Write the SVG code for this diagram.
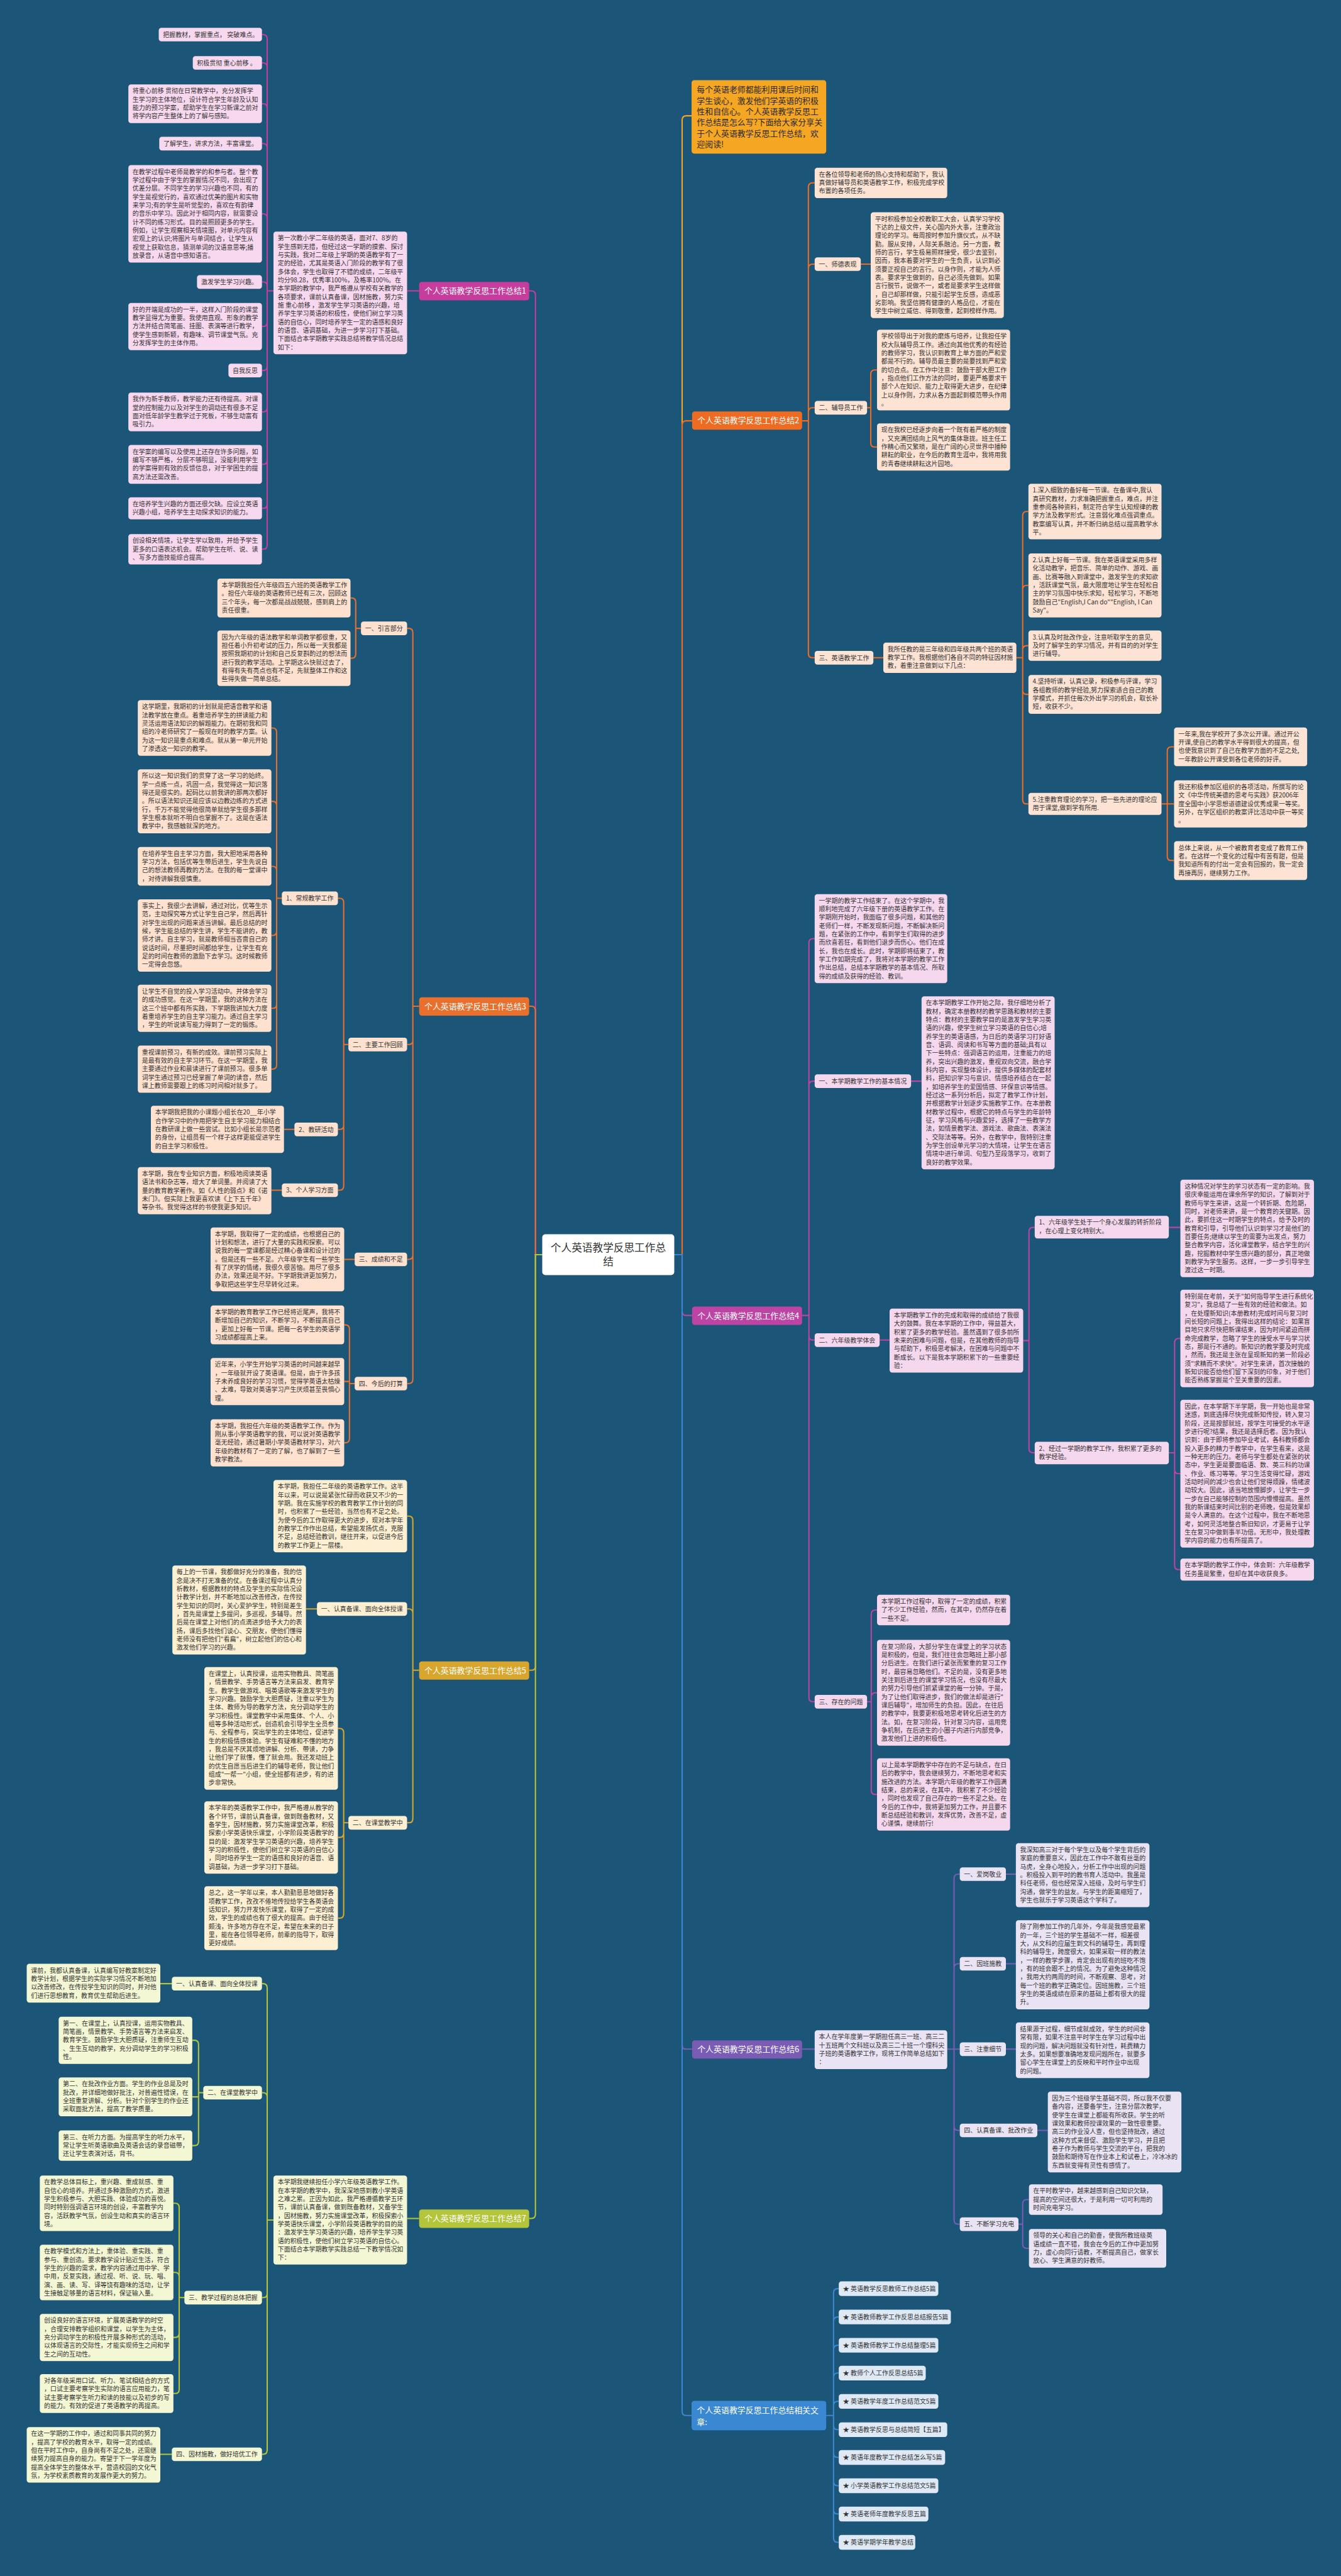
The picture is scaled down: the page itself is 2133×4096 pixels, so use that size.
<svg xmlns="http://www.w3.org/2000/svg" width="2133" height="4096" viewBox="0 0 2133 4096">
<style>
.t{font-family:"Noto Sans CJK SC","Noto Sans",sans-serif;font-size:12px;fill:#333}
.lb{font-family:"Noto Sans CJK SC","Noto Sans",sans-serif;font-size:15.5px;fill:#fff}
.tp{font-family:"Noto Sans CJK SC","Noto Sans",sans-serif;font-size:15.5px;fill:#2a2a2a}
.ct{font-family:"Noto Sans CJK SC","Noto Sans",sans-serif;font-size:20px;fill:#333}
.cn{fill:none;stroke-width:2.5}
.k0{stroke:#f5a623}.k1{stroke:#c63d9e}.k2{stroke:#f06b22}.k3{stroke:#e9702c}.k4{stroke:#bd43a5}.k5{stroke:#d8a62c}.k6{stroke:#7a5cb5}.k7{stroke:#b4c53a}.k8{stroke:#3a88d1}
.f1{fill:#f8d8ee}.f2{fill:#fde3d3}.f3{fill:#fee1cf}.f4{fill:#f6d8ee}.f5{fill:#fdf0d2}.f6{fill:#e9e3f4}.f7{fill:#f4f7d4}.f8{fill:#dfe9f6}
</style>
<rect x="0" y="0" width="2133" height="4096" fill="#1b5577"/>
<g transform="scale(0.833333)">
<g id="connectors">
<path class="cn k1" d="M1035 2394H1022V563Q1022 555 1014 555H1010"/>
<path class="cn k3" d="M1035 2394H1022V1928Q1022 1920 1014 1920H1010"/>
<path class="cn k5" d="M1035 2394H1022V3179Q1022 3187 1014 3187H1010"/>
<path class="cn k7" d="M1035 2394H1022V4225Q1022 4233 1014 4233H1010"/>
<path class="cn k0" d="M1287 2394H1302V229Q1302 221 1310 221H1320"/>
<path class="cn k2" d="M1287 2394H1302V811Q1302 803 1310 803H1321"/>
<path class="cn k4" d="M1287 2394H1302V2502Q1302 2510 1310 2510H1321"/>
<path class="cn k6" d="M1287 2394H1302V3902Q1302 3910 1310 3910H1321"/>
<path class="cn k8" d="M1287 2394H1302V4601Q1302 4609 1310 4609H1320"/>
<path class="cn k1" d="M800 555H777M522 555H510V74Q510 66 502 66H500M522 555H510V128Q510 120 502 120H500M522 555H510V206Q510 198 502 198H500M522 555H510V282Q510 274 502 274H500M522 555H510V416Q510 408 502 408H500M522 555H510V546Q510 538 502 538H500M522 555H510V615Q510 623 502 623H500M522 555H510V699Q510 707 502 707H500M522 555H510V778Q510 786 502 786H500M522 555H510V878Q510 886 502 886H500M522 555H510V962Q510 970 502 970H500M522 555H510V1040Q510 1048 502 1048H500"/>
<path class="cn k3" d="M800 1920H788V1207Q788 1199 780 1199H777M800 1920H788V1985Q788 1993 780 1993H777M800 1920H788V2395Q788 2403 780 2403H777M800 1920H788V2632Q788 2640 780 2640H777M692 1199H679V1149Q679 1141 671 1141H669M692 1199H679V1248Q679 1256 671 1256H669M669 1993H656V1722Q656 1714 648 1714H645M669 1993H656V2147Q656 2155 648 2155H645M669 1993H656V2263Q656 2271 648 2271H645M541 1714H528V1397Q528 1389 520 1389H518M541 1714H528V1537Q528 1529 520 1529H518M541 1714H528V1661Q528 1653 520 1653H518M541 1714H528V1777Q528 1785 520 1785H518M541 1714H528V1916Q528 1924 520 1924H518M541 1714H528V2032Q528 2040 520 2040H518M565 2155H542M541 2271H518M679 2403H657M679 2640H667V2536Q667 2528 659 2528H657M679 2640H667V2636H657M679 2640H667V2745Q667 2753 659 2753H657"/>
<path class="cn k5" d="M800 3187H788V2901Q788 2893 780 2893H777M800 3187H788V3078Q788 3070 780 3070H777M800 3187H788V3470Q788 3478 780 3478H777M607 3070H584M667 3478H656V3306Q656 3298 648 3298H645M667 3478H656V3498Q656 3506 648 3506H645M667 3478H656V3652Q656 3660 648 3660H645"/>
<path class="cn k7" d="M800 4233H777M522 4236H510V3793Q510 3785 502 3785H500M522 4236H510V4001Q510 3993 502 3993H500M522 4236H510V4376Q510 4384 502 4384H500M522 4236H510V4675Q510 4683 502 4683H500M329 3785H306M390 3993H379V3901Q379 3893 371 3893H367M390 3993H379V4001H367M390 3993H379V4086Q379 4094 371 4094H367M354 4384H342V4212Q342 4204 334 4204H331M354 4384H342V4344Q342 4336 334 4336H331M354 4384H342V4452Q342 4460 334 4460H331M354 4384H342V4559Q342 4567 334 4567H331M329 4683H306"/>
<path class="cn k2" d="M1531 803H1543V357Q1543 349 1551 349H1555M1531 803H1543V512Q1543 504 1551 504H1555M1531 803H1543V786Q1543 778 1551 778H1555M1531 803H1543V1247Q1543 1255 1551 1255H1555M1638 504H1662M1651 778H1662V714Q1662 706 1670 706H1674M1651 778H1662V845Q1662 853 1670 853H1674M1663 1255H1686M1940 1255H1952V984Q1952 976 1960 976H1963M1940 1255H1952V1125Q1952 1117 1960 1117H1963M1940 1255H1952V1240Q1952 1232 1960 1232H1963M1940 1255H1952V1317Q1952 1325 1960 1325H1963M1940 1255H1952V1526Q1952 1534 1960 1534H1963M2217 1534H2228V1433Q2228 1425 2236 1425H2241M2217 1534H2241M2217 1534H2228V1634Q2228 1642 2236 1642H2241"/>
<path class="cn k4" d="M1531 2510H1544V1799Q1544 1791 1552 1791H1555M1531 2510H1544V2071Q1544 2063 1552 2063H1555M1531 2510H1544V2549Q1544 2557 1552 2557H1555M1531 2510H1544V3239Q1544 3247 1552 3247H1555M1736 2063H1759M1675 2557H1698M1953 2558H1964V2350Q1964 2342 1972 2342H1975M1953 2558H1964V2764Q1964 2772 1972 2772H1975M2231 2342H2253M2231 2772H2242V2562Q2242 2554 2250 2554H2253M2231 2772H2242V2804Q2242 2812 2250 2812H2253M2231 2772H2242V2987Q2242 2995 2250 2995H2253M1651 3247H1663V3080Q1663 3072 1671 3072H1674M1651 3247H1663V3238Q1663 3230 1671 3230H1674M1651 3247H1663V3416Q1663 3424 1671 3424H1674"/>
<path class="cn k6" d="M1531 3910H1555M1808 3910H1821V3584Q1821 3576 1829 3576H1832M1808 3910H1821V3755Q1821 3747 1829 3747H1832M1808 3910H1832M1808 3910H1821V4057Q1821 4065 1829 4065H1832M1808 3910H1821V4236Q1821 4244 1829 4244H1832M1916 3576H1939M1916 3747H1939M1916 3910H1939M1977 4065H2000M1941 4244H1952V4205Q1952 4197 1960 4197H1964M1941 4244H1952V4282Q1952 4290 1960 4290H1964"/>
<path class="cn k8" d="M1577 4609H1591V4375Q1591 4367 1599 4367H1601M1577 4609H1591V4429Q1591 4421 1599 4421H1601M1577 4609H1591V4483Q1591 4475 1599 4475H1601M1577 4609H1591V4536Q1591 4528 1599 4528H1601M1577 4609H1591V4590Q1591 4582 1599 4582H1601M1577 4609H1591V4628Q1591 4636 1599 4636H1601M1577 4609H1591V4681Q1591 4689 1599 4689H1601M1577 4609H1591V4735Q1591 4743 1599 4743H1601M1577 4609H1591V4789Q1591 4797 1599 4797H1601M1577 4609H1591V4843Q1591 4851 1599 4851H1601"/>
</g>

<g id="center"><rect x="1035" y="2355" width="252" height="78" rx="6" fill="#ffffff"/><text class="ct" x="1161" y="2388" text-anchor="middle">个人英语教学反思工作总<tspan x="1161" dy="27">结</tspan></text></g>

<g id="intro"><rect x="1320" y="153" width="257" height="140" rx="5" fill="#f5a623"/><text class="tp" x="1330" y="177">每个英语老师都能利用课后时间和<tspan x="1330" dy="20.8">学生谈心，激发他们学英语的积极</tspan><tspan x="1330" dy="20.8">性和自信心。个人英语教学反思工</tspan><tspan x="1330" dy="20.8">作总结是怎么写?下面给大家分享关</tspan><tspan x="1330" dy="20.8">于个人英语教学反思工作总结，欢</tspan><tspan x="1330" dy="20.8">迎阅读!</tspan></text></g>

<g id="b1">
<g id="b1-label"><rect x="800" y="538" width="210" height="35" rx="5" fill="#c63d9e"/><text class="lb" x="810" y="561">个人英语教学反思工作总结1</text></g>
<g id="b1-main"><rect class="f1" x="522" y="442" width="255" height="234" rx="5"/><text class="t" x="530" y="459">第一次教小学二年级的英语，面对7、8岁的<tspan x="530" dy="16">学生感到无措，但经过这一学期的摸索、探讨</tspan><tspan x="530" dy="16">与实践，我对二年级上学期的英语教学有了一</tspan><tspan x="530" dy="16">定的经验，尤其是英语入门阶段的教学有了很</tspan><tspan x="530" dy="16">多体会，学生也取得了不错的成绩，二年级平</tspan><tspan x="530" dy="16">均分98.28，优秀率100%，及格率100%。在</tspan><tspan x="530" dy="16">本学期的教学中，我严格遵从学校有关教学的</tspan><tspan x="530" dy="16">各项要求，课前认真备课，因材施教，努力实</tspan><tspan x="530" dy="16">施 重心前移 ，激发学生学习英语的兴趣，培</tspan><tspan x="530" dy="16">养学生学习英语的积极性，使他们树立学习英</tspan><tspan x="530" dy="16">语的自信心，同时培养学生一定的语感和良好</tspan><tspan x="530" dy="16">的语音、语调基础，为进一步学习打下基础。</tspan><tspan x="530" dy="16">下面结合本学期教学实践总结将教学情况总结</tspan><tspan x="530" dy="16">如下：</tspan></text></g>
<g id="b1-a"><rect class="f1" x="303" y="53" width="197" height="26" rx="5"/><text class="t" x="311" y="70.5">把握教材，掌握重点， 突破难点。</text></g>
<g id="b1-b"><rect class="f1" x="368" y="107" width="132" height="26" rx="5"/><text class="t" x="376" y="124.5">积极贯彻 重心前移 。</text></g>
<g id="b1-c"><rect class="f1" x="245" y="161" width="255" height="74" rx="5"/><text class="t" x="253" y="178">将重心前移 贯彻在日常教学中，充分发挥学<tspan x="253" dy="16">生学习的主体地位，设计符合学生年龄及认知</tspan><tspan x="253" dy="16">能力的预习学案，帮助学生在学习新课之前对</tspan><tspan x="253" dy="16">将学内容产生整体上的了解与感知。</tspan></text></g>
<g id="b1-d"><rect class="f1" x="304" y="261" width="196" height="26" rx="5"/><text class="t" x="312" y="278.5">了解学生，讲求方法，丰富课堂。</text></g>
<g id="b1-e"><rect class="f1" x="245" y="315" width="255" height="186" rx="5"/><text class="t" x="253" y="332">在教学过程中老师是教学的和参与者。整个教<tspan x="253" dy="16">学过程中由于学生的掌握情况不同，会出现了</tspan><tspan x="253" dy="16">优差分层。不同学生的学习兴趣也不同，有的</tspan><tspan x="253" dy="16">学生是视觉行的，喜欢通过优美的图片和实物</tspan><tspan x="253" dy="16">来学习;有的学生是听觉型的，喜欢在有韵律</tspan><tspan x="253" dy="16">的音乐中学习。因此对于相同内容，就需要设</tspan><tspan x="253" dy="16">计不同的练习形式。目的是照顾更多的学生。</tspan><tspan x="253" dy="16">例如，让学生观察相关情境图，对单元内容有</tspan><tspan x="253" dy="16">宏观上的认识;将图片与单词结合，让学生从</tspan><tspan x="253" dy="16">视觉上获取信息，猜测单词的汉语意思等;播</tspan><tspan x="253" dy="16">放录音，从语音中感知语言。</tspan></text></g>
<g id="b1-f"><rect class="f1" x="376" y="525" width="124" height="26" rx="5"/><text class="t" x="384" y="542.5">激发学生学习兴趣。</text></g>
<g id="b1-g"><rect class="f1" x="245" y="578" width="255" height="90" rx="5"/><text class="t" x="253" y="595">好的开端是成功的一半，这样入门阶段的课堂<tspan x="253" dy="16">教学显得尤为重要。我使用直观、形象的教学</tspan><tspan x="253" dy="16">方法并结合简笔画、挂图、表演等进行教学，</tspan><tspan x="253" dy="16">使学生感到新颖，有趣味、调节课堂气氛。充</tspan><tspan x="253" dy="16">分发挥学生的主体作用。</tspan></text></g>
<g id="b1-h"><rect class="f1" x="436" y="694" width="64" height="26" rx="5"/><text class="t" x="444" y="711.5">自我反思</text></g>
<g id="b1-i"><rect class="f1" x="245" y="749" width="255" height="74" rx="5"/><text class="t" x="253" y="766">我作为新手教师，教学能力还有待提高。对课<tspan x="253" dy="16">堂的控制能力以及对学生的调动还有很多不足</tspan><tspan x="253" dy="16">面对低年龄学生教学过于死板，不够生动富有</tspan><tspan x="253" dy="16">吸引力。</tspan></text></g>
<g id="b1-j"><rect class="f1" x="245" y="849" width="255" height="74" rx="5"/><text class="t" x="253" y="866">在学案的编写以及使用上还存在许多问题，如<tspan x="253" dy="16">编写不够严格，分层不够明显，没能利用学生</tspan><tspan x="253" dy="16">的学案得到有效的反馈信息，对于学困生的提</tspan><tspan x="253" dy="16">高方法还需改善。</tspan></text></g>
<g id="b1-k"><rect class="f1" x="245" y="949" width="255" height="42" rx="5"/><text class="t" x="253" y="966">在培养学生兴趣的方面还很欠缺。应设立英语<tspan x="253" dy="16">兴趣小组，培养学生主动探求知识的能力。</tspan></text></g>
<g id="b1-l"><rect class="f1" x="245" y="1019" width="255" height="58" rx="5"/><text class="t" x="253" y="1036">创设相关情境，让学生学以致用，并给予学生<tspan x="253" dy="16">更多的口语表达机会。帮助学生在听、说、读</tspan><tspan x="253" dy="16">、写多方面技能综合提高。</tspan></text></g>
</g>

<g id="b3">
<g id="b3-label"><rect x="800" y="1903" width="210" height="35" rx="5" fill="#e9702c"/><text class="lb" x="810" y="1926">个人英语教学反思工作总结3</text></g>
<g id="b3-s1"><rect class="f3" x="689" y="1186" width="88" height="26" rx="5"/><text class="t" x="697" y="1203.5">一、引言部分</text></g>
<g id="b3-A"><rect class="f3" x="415" y="1104" width="254" height="74" rx="5"/><text class="t" x="423" y="1121">本学期我担任六年级四五六班的英语教学工作<tspan x="423" dy="16">。担任六年级的英语教师已经有三次，回顾这</tspan><tspan x="423" dy="16">三个年头，每一次都是战战兢兢，感到肩上的</tspan><tspan x="423" dy="16">责任很重。</tspan></text></g>
<g id="b3-B"><rect class="f3" x="415" y="1203" width="254" height="106" rx="5"/><text class="t" x="423" y="1220">因为六年级的语法教学和单词教学都很重，又<tspan x="423" dy="16">担任着小升初考试的压力，所以每一天我都是</tspan><tspan x="423" dy="16">按照我期初的计划和自己反复斟酌过的想法而</tspan><tspan x="423" dy="16">进行我的教学活动。上学期这么快就过去了，</tspan><tspan x="423" dy="16">有得有失有亮点也有不足，先就整体工作和这</tspan><tspan x="423" dy="16">些得失做一简单总结。</tspan></text></g>
<g id="b3-s2"><rect class="f3" x="665" y="1980" width="112" height="26" rx="5"/><text class="t" x="673" y="1997.5">二、主要工作回顾</text></g>
<g id="b3-s21"><rect class="f3" x="538" y="1701" width="107" height="26" rx="5"/><text class="t" x="546" y="1718.5">1、常规教学工作</text></g>
<g id="b3-C1"><rect class="f3" x="263" y="1336" width="255" height="106" rx="5"/><text class="t" x="271" y="1353">这学期里，我期初的计划就是把语音教学和语<tspan x="271" dy="16">法教学放在重点。着重培养学生的拼读能力和</tspan><tspan x="271" dy="16">灵活运用语法知识的解题能力。在期初我和同</tspan><tspan x="271" dy="16">组的冷老师研究了一般现在时的教学方案。认</tspan><tspan x="271" dy="16">为这一知识是重点和难点。就从第一单元开始</tspan><tspan x="271" dy="16">了渗透这一知识的教学。</tspan></text></g>
<g id="b3-C2"><rect class="f3" x="263" y="1468" width="255" height="122" rx="5"/><text class="t" x="271" y="1485">所以这一知识我们的贯穿了这一学习的始终。<tspan x="271" dy="16">学一点练一点，巩固一点，我觉得这一知识落</tspan><tspan x="271" dy="16">得还是很实的。起码比以前我讲的那两次都好</tspan><tspan x="271" dy="16">。所以语法知识还是应该以边教边练的方式进</tspan><tspan x="271" dy="16">行，千万不能觉得他很简单就给学生很多那样</tspan><tspan x="271" dy="16">学生根本就听不明白也掌握不了。这是在语法</tspan><tspan x="271" dy="16">教学中，我感触就深的地方。</tspan></text></g>
<g id="b3-C3"><rect class="f3" x="263" y="1616" width="255" height="74" rx="5"/><text class="t" x="271" y="1633">在培养学生自主学习方面，我大胆地采用各种<tspan x="271" dy="16">学习方法，包括优等生带后进生，学生先说自</tspan><tspan x="271" dy="16">己的想法教师再教的方法。在我的每一堂课中</tspan><tspan x="271" dy="16">，对待讲解我很慎重。</tspan></text></g>
<g id="b3-C4"><rect class="f3" x="263" y="1716" width="255" height="138" rx="5"/><text class="t" x="271" y="1733">事实上，我很少去讲解，通过对比，优等生示<tspan x="271" dy="16">范，主动探究等方式让学生自己学，然后再针</tspan><tspan x="271" dy="16">对学生出现的问题来适当讲解。最后总结的时</tspan><tspan x="271" dy="16">候，学生能总结的学生讲，学生不能讲的，教</tspan><tspan x="271" dy="16">师才讲。自主学习，就是教师相当吝啬自己的</tspan><tspan x="271" dy="16">说话时间，尽量把时间都给学生，让学生有充</tspan><tspan x="271" dy="16">足的时间在教师的激励下去学习。这时候教师</tspan><tspan x="271" dy="16">一定得会忽悠。</tspan></text></g>
<g id="b3-C5"><rect class="f3" x="263" y="1879" width="255" height="90" rx="5"/><text class="t" x="271" y="1896">让学生不自觉的投入学习活动中。并体会学习<tspan x="271" dy="16">的成功感觉。在这一学期里，我的这种方法在</tspan><tspan x="271" dy="16">这三个班中都有所实践，下学期我讲加大力度</tspan><tspan x="271" dy="16">着重培养学生的自主学习能力。通过自主学习</tspan><tspan x="271" dy="16">，学生的听说读写能力得到了一定的锻炼。</tspan></text></g>
<g id="b3-C6"><rect class="f3" x="263" y="1995" width="255" height="90" rx="5"/><text class="t" x="271" y="2012">重视课前预习，有新的成效。课前预习实际上<tspan x="271" dy="16">是最有效的自主学习环节。在这一学期里，我</tspan><tspan x="271" dy="16">主要通过作业和晨读进行了课前预习。很多单</tspan><tspan x="271" dy="16">词学生通过预习已经掌握了单词的读音，然后</tspan><tspan x="271" dy="16">课上教师需要跟上的练习时间相对就多了。</tspan></text></g>
<g id="b3-s22"><rect class="f3" x="562" y="2142" width="83" height="26" rx="5"/><text class="t" x="570" y="2159.5">2、教研活动</text></g>
<g id="b3-D"><rect class="f3" x="288" y="2110" width="254" height="90" rx="5"/><text class="t" x="296" y="2127">本学期我把我的小课题小组长在20__年小学<tspan x="296" dy="16">合作学习中的作用把学生自主学习能力相结合</tspan><tspan x="296" dy="16">在教研课上做一些尝试。比如小组长是示范者</tspan><tspan x="296" dy="16">的身份，让组员有一个样子这样更能促进学生</tspan><tspan x="296" dy="16">的自主学习积极性。</tspan></text></g>
<g id="b3-s23"><rect class="f3" x="538" y="2258" width="107" height="26" rx="5"/><text class="t" x="546" y="2275.5">3、个人学习方面</text></g>
<g id="b3-E"><rect class="f3" x="263" y="2227" width="255" height="90" rx="5"/><text class="t" x="271" y="2244">本学期，我在专业知识方面，积极地阅读英语<tspan x="271" dy="16">语法书和杂志等，增大了单词量。并阅读了大</tspan><tspan x="271" dy="16">量的教育教学著作。如《人性的弱点》和《诺</tspan><tspan x="271" dy="16">未门》。但实际上我更喜欢读《上下五千年》</tspan><tspan x="271" dy="16">等杂书。我觉得这样的书使我更多知识。</tspan></text></g>
<g id="b3-s3"><rect class="f3" x="677" y="2390" width="100" height="26" rx="5"/><text class="t" x="685" y="2407.5">三、成绩和不足</text></g>
<g id="b3-F"><rect class="f3" x="402" y="2342" width="255" height="122" rx="5"/><text class="t" x="410" y="2359">本学期，我取得了一定的成绩，也根据自己的<tspan x="410" dy="16">计划和想法，进行了大量的实践和探索。可以</tspan><tspan x="410" dy="16">说我的每一堂课都是经过精心备课和设计过的</tspan><tspan x="410" dy="16">。但是还有一些不足。六年级学生有一些学生</tspan><tspan x="410" dy="16">有了厌学的情绪，我很久很苦恼。用尽了很多</tspan><tspan x="410" dy="16">办法，效果还是不好。下学期我讲更加努力，</tspan><tspan x="410" dy="16">争取把这些学生尽早转化过来。</tspan></text></g>
<g id="b3-s4"><rect class="f3" x="677" y="2627" width="100" height="26" rx="5"/><text class="t" x="685" y="2644.5">四、今后的打算</text></g>
<g id="b3-G1"><rect class="f3" x="402" y="2491" width="255" height="74" rx="5"/><text class="t" x="410" y="2508">本学期的教育教学工作已经将近尾声，我将不<tspan x="410" dy="16">断增加自己的知识，不断学习，不断提高自己</tspan><tspan x="410" dy="16">，更加上好每一节课。把每一名学生的英语学</tspan><tspan x="410" dy="16">习成绩都提高上来。</tspan></text></g>
<g id="b3-G2"><rect class="f3" x="402" y="2591" width="255" height="90" rx="5"/><text class="t" x="410" y="2608">近年来，小学生开始学习英语的时间越来越早<tspan x="410" dy="16">，一年级就开设了英语课。但是，由于许多孩</tspan><tspan x="410" dy="16">子未养成良好的学习习惯，觉得学英语太枯燥</tspan><tspan x="410" dy="16">、太难，导致对英语学习产生厌烦甚至畏惧心</tspan><tspan x="410" dy="16">理。</tspan></text></g>
<g id="b3-G3"><rect class="f3" x="402" y="2708" width="255" height="90" rx="5"/><text class="t" x="410" y="2725">本学期，我担任六年级的英语教学工作。作为<tspan x="410" dy="16">刚从事小学英语教学的我，可以说对英语教学</tspan><tspan x="410" dy="16">毫无经验，通过暑期小学英语教材学习，对六</tspan><tspan x="410" dy="16">年级的教材有了一定的了解，也了解到了一些</tspan><tspan x="410" dy="16">教学教法。</tspan></text></g>
</g>

<g id="b5">
<g id="b5-label"><rect x="800" y="3170" width="210" height="35" rx="5" fill="#d8a62c"/><text class="lb" x="810" y="3193">个人英语教学反思工作总结5</text></g>
<g id="b5-H"><rect class="f5" x="522" y="2824" width="255" height="138" rx="5"/><text class="t" x="530" y="2841">本学期，我担任二年级的英语教学工作。这半<tspan x="530" dy="16">年以来，可以说是紧张忙碌而收获又不少的一</tspan><tspan x="530" dy="16">学期。我在实施学校的教育教学工作计划的同</tspan><tspan x="530" dy="16">时，也积累了一些经验，当然也有不足之处。</tspan><tspan x="530" dy="16">为使今后的工作取得更大的进步，现对本学年</tspan><tspan x="530" dy="16">的教学工作作出总结，希望能发扬优点，克服</tspan><tspan x="530" dy="16">不足，总结经验教训，继往开来，以促进今后</tspan><tspan x="530" dy="16">的教学工作更上一层楼。</tspan></text></g>
<g id="b5-s1"><rect class="f5" x="605" y="3057" width="172" height="26" rx="5"/><text class="t" x="613" y="3074.5">一、认真备课、面向全体授课</text></g>
<g id="b5-I"><rect class="f5" x="329" y="2987" width="255" height="170" rx="5"/><text class="t" x="337" y="3004">每上的一节课，我都做好充分的准备，我的信<tspan x="337" dy="16">念是决不打无准备的仗。在备课过程中认真分</tspan><tspan x="337" dy="16">析教材，根据教材的特点及学生的实际情况设</tspan><tspan x="337" dy="16">计教学计划，并不断地加以改善修改，在传授</tspan><tspan x="337" dy="16">学生知识的同时，关心爱护学生，特别是差生</tspan><tspan x="337" dy="16">，首先是课堂上多提问，多巡视，多辅导。然</tspan><tspan x="337" dy="16">后是在课堂上对他们的点滴进步给予大力的表</tspan><tspan x="337" dy="16">扬，课后多找他们谈心、交朋友，使他们懂得</tspan><tspan x="337" dy="16">老师没有把他们"看扁"，树立起他们的信心和</tspan><tspan x="337" dy="16">激发他们学习的兴趣。</tspan></text></g>
<g id="b5-s2"><rect class="f5" x="665" y="3465" width="112" height="26" rx="5"/><text class="t" x="673" y="3482.5">二、在课堂教学中</text></g>
<g id="b5-J1"><rect class="f5" x="390" y="3181" width="255" height="234" rx="5"/><text class="t" x="398" y="3198">在课堂上，认真授课，运用实物教具、简笔画<tspan x="398" dy="16">，情景教学、手势语言等方法来启发、教育学</tspan><tspan x="398" dy="16">生。教学生做游戏、唱英语歌等来激发学生的</tspan><tspan x="398" dy="16">学习兴趣。鼓励学生大胆质疑，注重以学生为</tspan><tspan x="398" dy="16">主体、教师为导的教学方法，充分调动学生的</tspan><tspan x="398" dy="16">学习积极性。课堂教学中采用集体、个人、小</tspan><tspan x="398" dy="16">组等多种活动形式，创造机会引导学生全员参</tspan><tspan x="398" dy="16">与、全程参与，突出学生的主体地位，促进学</tspan><tspan x="398" dy="16">生的积极情感体验。学生有疑难和不懂的地方</tspan><tspan x="398" dy="16">，我总是不厌其烦地讲解、分析、带读，力争</tspan><tspan x="398" dy="16">让他们学了就懂，懂了就会用。我还发动班上</tspan><tspan x="398" dy="16">的优生自愿当后进生们的辅导老师，我让他们</tspan><tspan x="398" dy="16">组成"一帮一"小组，使全班都有进步，有的进</tspan><tspan x="398" dy="16">步非常快。</tspan></text></g>
<g id="b5-J2"><rect class="f5" x="390" y="3437" width="255" height="138" rx="5"/><text class="t" x="398" y="3454">本学年的英语教学工作中，我严格遵从教学的<tspan x="398" dy="16">各个环节，课前认真备课，做到既备教材，又</tspan><tspan x="398" dy="16">备学生，因材施教，努力实施课堂改革，积极</tspan><tspan x="398" dy="16">探索小学英语快乐课堂，小学阶段英语教学的</tspan><tspan x="398" dy="16">目的是：激发学生学习英语的兴趣，培养学生</tspan><tspan x="398" dy="16">学习的积极性，使他们树立学习英语的自信心</tspan><tspan x="398" dy="16">，同时培养学生一定的语感和良好的语音、语</tspan><tspan x="398" dy="16">调基础，为进一步学习打下基础。</tspan></text></g>
<g id="b5-J3"><rect class="f5" x="390" y="3599" width="255" height="122" rx="5"/><text class="t" x="398" y="3616">总之，这一学年以来，本人勤勤恳恳地做好各<tspan x="398" dy="16">项教学工作，孜孜不倦地传授给学生各英语会</tspan><tspan x="398" dy="16">话知识，努力开发快乐课堂，取得了一定的成</tspan><tspan x="398" dy="16">效，学生的成绩也有了很大的提高。由于经验</tspan><tspan x="398" dy="16">颇浅，许多地方存在不足，希望在未来的日子</tspan><tspan x="398" dy="16">里，能在各位领导老师，前辈的指导下，取得</tspan><tspan x="398" dy="16">更好成绩。</tspan></text></g>
</g>

<g id="b7">
<g id="b7-label"><rect x="800" y="4216" width="210" height="35" rx="5" fill="#b4c53a"/><text class="lb" x="810" y="4239">个人英语教学反思工作总结7</text></g>
<g id="b7-K"><rect class="f7" x="522" y="4151" width="255" height="170" rx="5"/><text class="t" x="530" y="4168">本学期我继续担任小学六年级英语教学工作。<tspan x="530" dy="16">在本学期的教学中，我深深地感到教小学英语</tspan><tspan x="530" dy="16">之难之累。正因为如此，我严格遵循教学五环</tspan><tspan x="530" dy="16">节，课前认真备课，做到既备教材，又备学生</tspan><tspan x="530" dy="16">，因材施教，努力实施课堂改革，积极探索小</tspan><tspan x="530" dy="16">学英语快乐课堂，小学阶段英语教学的目的是</tspan><tspan x="530" dy="16">：激发学生学习英语的兴趣，培养学生学习英</tspan><tspan x="530" dy="16">语的积极性，使他们树立学习英语的自信心。</tspan><tspan x="530" dy="16">下面结合本学期教学实践总结一下教学情况如</tspan><tspan x="530" dy="16">下：</tspan></text></g>
<g id="b7-s1"><rect class="f7" x="328" y="3772" width="172" height="26" rx="5"/><text class="t" x="336" y="3789.5">一、认真备课、面向全体授课</text></g>
<g id="b7-L1"><rect class="f7" x="51" y="3747" width="255" height="74" rx="5"/><text class="t" x="59" y="3764">课前，我都认真备课，认真编写好教案制定好<tspan x="59" dy="16">教学计划，根据学生的实际学习情况不断地加</tspan><tspan x="59" dy="16">以改善修改，在传授学生知识的同时，并对他</tspan><tspan x="59" dy="16">们进行思想教育，教育优生帮助后进生。</tspan></text></g>
<g id="b7-s2"><rect class="f7" x="388" y="3980" width="112" height="26" rx="5"/><text class="t" x="396" y="3997.5">二、在课堂教学中</text></g>
<g id="b7-M1"><rect class="f7" x="112" y="3848" width="255" height="90" rx="5"/><text class="t" x="120" y="3865">第一、在课堂上，认真授课，运用实物教具、<tspan x="120" dy="16">简笔画，情景教学、手势语言等方法来启发、</tspan><tspan x="120" dy="16">教育学生。鼓励学生大胆质疑，注重师生互动</tspan><tspan x="120" dy="16">、生生互动的教学，充分调动学生的学习积极</tspan><tspan x="120" dy="16">性。</tspan></text></g>
<g id="b7-M2"><rect class="f7" x="112" y="3964" width="255" height="74" rx="5"/><text class="t" x="120" y="3981">第二、在批改作业方面。学生的作业总是及时<tspan x="120" dy="16">批改，并详细地做好批注，对普遍性错误，在</tspan><tspan x="120" dy="16">全班重复讲解、分析。针对个别学生的作业还</tspan><tspan x="120" dy="16">采取面批方法，提高了教学质量。</tspan></text></g>
<g id="b7-M3"><rect class="f7" x="112" y="4065" width="255" height="58" rx="5"/><text class="t" x="120" y="4082">第三、在听力方面。为提高学生的听力水平，<tspan x="120" dy="16">常让学生听英语歌曲及英语会话的录音磁带，</tspan><tspan x="120" dy="16">还让学生表演对话，背书。</tspan></text></g>
<g id="b7-s3"><rect class="f7" x="352" y="4371" width="148" height="26" rx="5"/><text class="t" x="360" y="4388.5">三、教学过程的总体把握</text></g>
<g id="b7-N1"><rect class="f7" x="76" y="4151" width="255" height="106" rx="5"/><text class="t" x="84" y="4168">在教学总体目标上，重兴趣、重成就感、重<tspan x="84" dy="16">自信心的培养。并通过多种激励的方式，激进</tspan><tspan x="84" dy="16">学生积极参与、大胆实践、体验成功的喜悦。</tspan><tspan x="84" dy="16">同时特别强调语言环境的创设，丰富教学内</tspan><tspan x="84" dy="16">容，活跃教学气氛，创设生动和真实的语言环</tspan><tspan x="84" dy="16">境。</tspan></text></g>
<g id="b7-N2"><rect class="f7" x="76" y="4283" width="255" height="106" rx="5"/><text class="t" x="84" y="4300">在教学模式和方法上，重体验、重实践、重<tspan x="84" dy="16">参与、重创造。要求教学设计贴近生活，符合</tspan><tspan x="84" dy="16">学生的兴趣的需求，教学内容通过用中学、学</tspan><tspan x="84" dy="16">中用，反复实践，通过视、听、说、玩、唱、</tspan><tspan x="84" dy="16">演、画、读、写、译等饶有趣味的活动，让学</tspan><tspan x="84" dy="16">生接触足够量的语言材料，保证输入量。</tspan></text></g>
<g id="b7-N3"><rect class="f7" x="76" y="4415" width="255" height="90" rx="5"/><text class="t" x="84" y="4432">创设良好的语言环境，扩展英语教学的时空<tspan x="84" dy="16">，合理安排教学组织和课堂，以学生为主体，</tspan><tspan x="84" dy="16">充分调动学生的积极性开展多种形式的活动，</tspan><tspan x="84" dy="16">以体现语言的交际性，才能实现师生之间和学</tspan><tspan x="84" dy="16">生之间的互动性。</tspan></text></g>
<g id="b7-N4"><rect class="f7" x="76" y="4530" width="255" height="74" rx="5"/><text class="t" x="84" y="4547">对各年级采用口试、听力、笔试相结合的方式<tspan x="84" dy="16">，口试主要考察学生实际的语言应用能力，笔</tspan><tspan x="84" dy="16">试主要考察学生听力和读的技能以及初步的写</tspan><tspan x="84" dy="16">的能力。有效的促进了英语教学的再提高。</tspan></text></g>
<g id="b7-s4"><rect class="f7" x="328" y="4670" width="172" height="26" rx="5"/><text class="t" x="336" y="4687.5">四、因材施教，做好培优工作</text></g>
<g id="b7-O"><rect class="f7" x="51" y="4631" width="255" height="106" rx="5"/><text class="t" x="59" y="4648">在这一学期的工作中，通过和同事共同的努力<tspan x="59" dy="16">，提高了学校的教育水平，取得一定的成绩。</tspan><tspan x="59" dy="16">但在平时工作中，自身尚有不足之处，还需继</tspan><tspan x="59" dy="16">续努力提高自身的能力。寄望于下一学年度为</tspan><tspan x="59" dy="16">提高全体学生的整体水平，营造校园的文化气</tspan><tspan x="59" dy="16">氛，为学校素质教育的发展作更大的努力。</tspan></text></g>
</g>

<g id="b2">
<g id="b2-label"><rect x="1321" y="785" width="210" height="35" rx="5" fill="#f06b22"/><text class="lb" x="1331" y="808">个人英语教学反思工作总结2</text></g>
<g id="b2-P"><rect class="f2" x="1555" y="320" width="253" height="58" rx="5"/><text class="t" x="1563" y="337">在各位领导和老师的热心支持和帮助下，我认<tspan x="1563" dy="16">真做好辅导员和英语教学工作，积极完成学校</tspan><tspan x="1563" dy="16">布置的各项任务。</tspan></text></g>
<g id="b2-s1"><rect class="f2" x="1555" y="491" width="88" height="26" rx="5"/><text class="t" x="1563" y="508.5">一、师德表现</text></g>
<g id="b2-Q"><rect class="f2" x="1662" y="405" width="254" height="202" rx="5"/><text class="t" x="1670" y="422">平时积极参加全校教职工大会，认真学习学校<tspan x="1670" dy="16">下达的上级文件，关心国内外大事，注重政治</tspan><tspan x="1670" dy="16">理论的学习。每周按时参加升旗仪式，从不缺</tspan><tspan x="1670" dy="16">勤。服从安排，人际关系融洽。另一方面，教</tspan><tspan x="1670" dy="16">师的言行，学生极易照样接受，很少去鉴别，</tspan><tspan x="1670" dy="16">因而，我本着要对学生的一生负责，认识到必</tspan><tspan x="1670" dy="16">须要正视自己的言行。以身作则，才能为人师</tspan><tspan x="1670" dy="16">表。要求学生做到的，自己必须先做到。如果</tspan><tspan x="1670" dy="16">言行脱节，说做不一，或者是要求学生这样做</tspan><tspan x="1670" dy="16">，自己却那样做，只能引起学生反感，造成恶</tspan><tspan x="1670" dy="16">劣影响。我坚信拥有健康的人格品位，才能在</tspan><tspan x="1670" dy="16">学生中树立威信、得到敬重，起到榜样作用。</tspan></text></g>
<g id="b2-s2"><rect class="f2" x="1555" y="765" width="100" height="26" rx="5"/><text class="t" x="1563" y="782.5">二、辅导员工作</text></g>
<g id="b2-R1"><rect class="f2" x="1674" y="629" width="254" height="154" rx="5"/><text class="t" x="1682" y="646">学校领导出于对我的磨炼与培养，让我担任学<tspan x="1682" dy="16">校大队辅导员工作。通过向其他优秀的有经验</tspan><tspan x="1682" dy="16">的教师学习，我认识到教育上单方面的严和爱</tspan><tspan x="1682" dy="16">都是不行的。辅导员最主要的是要找到严和爱</tspan><tspan x="1682" dy="16">的切合点。在工作中注意：鼓励干部大胆工作</tspan><tspan x="1682" dy="16">，指点他们工作方法的同时，要更严格要求干</tspan><tspan x="1682" dy="16">部个人在知识、能力上取得更大进步，在纪律</tspan><tspan x="1682" dy="16">上以身作则，力求从各方面起到模范带头作用</tspan><tspan x="1682" dy="16">。</tspan></text></g>
<g id="b2-R2"><rect class="f2" x="1674" y="808" width="254" height="90" rx="5"/><text class="t" x="1682" y="825">现在我校已经逐步向着一个既有着严格的制度<tspan x="1682" dy="16">，又充满团结向上风气的集体靠拢。班主任工</tspan><tspan x="1682" dy="16">作精心而又繁琐，是在广阔的心灵世界中播种</tspan><tspan x="1682" dy="16">耕耘的职业，在今后的教育生涯中，我将用我</tspan><tspan x="1682" dy="16">的青春继续耕耘这片园地。</tspan></text></g>
<g id="b2-s3"><rect class="f2" x="1555" y="1242" width="112" height="26" rx="5"/><text class="t" x="1563" y="1259.5">三、英语教学工作</text></g>
<g id="b2-S"><rect class="f2" x="1686" y="1226" width="254" height="58" rx="5"/><text class="t" x="1694" y="1243">我所任教的是三年级和四年级共两个班的英语<tspan x="1694" dy="16">教学工作。我根据他们各自不同的特征因材施</tspan><tspan x="1694" dy="16">教，着重注意做到以下几点：</tspan></text></g>
<g id="b2-T1"><rect class="f2" x="1963" y="923" width="254" height="106" rx="5"/><text class="t" x="1971" y="940">1.深入细致的备好每一节课。在备课中,我认<tspan x="1971" dy="16">真研究教材，力求准确把握重点，难点，并注</tspan><tspan x="1971" dy="16">重参阅各种资料，制定符合学生认知规律的教</tspan><tspan x="1971" dy="16">学方法及教学形式。注意弱化难点强调重点。</tspan><tspan x="1971" dy="16">教案编写认真，并不断归纳总结以提高教学水</tspan><tspan x="1971" dy="16">平。</tspan></text></g>
<g id="b2-T2"><rect class="f2" x="1963" y="1056" width="254" height="122" rx="5"/><text class="t" x="1971" y="1073">2.认真上好每一节课。我在英语课堂采用多样<tspan x="1971" dy="16">化活动教学，把音乐、简单的动作、游戏、画</tspan><tspan x="1971" dy="16">画、比赛等融入到课堂中，激发学生的求知欲</tspan><tspan x="1971" dy="16">，活跃课堂气氛，最大限度地让学生在轻松自</tspan><tspan x="1971" dy="16">主的学习氛围中快乐求知，轻松学习，不断地</tspan><tspan x="1971" dy="16">鼓励自己"English,I Can do""English, I Can</tspan><tspan x="1971" dy="16">Say"。</tspan></text></g>
<g id="b2-T3"><rect class="f2" x="1963" y="1203" width="254" height="58" rx="5"/><text class="t" x="1971" y="1220">3.认真及时批改作业，注意听取学生的意见,<tspan x="1971" dy="16">及时了解学生的学习情况，并有目的的对学生</tspan><tspan x="1971" dy="16">进行辅导。</tspan></text></g>
<g id="b2-T4"><rect class="f2" x="1963" y="1288" width="254" height="74" rx="5"/><text class="t" x="1971" y="1305">4.坚持听课，认真记录，积极参与评课，学习<tspan x="1971" dy="16">各组教师的教学经验,努力探索适合自己的教</tspan><tspan x="1971" dy="16">学模式，并抓住每次外出学习的机会，取长补</tspan><tspan x="1971" dy="16">短，收获不少。</tspan></text></g>
<g id="b2-T5"><rect class="f2" x="1963" y="1513" width="254" height="42" rx="5"/><text class="t" x="1971" y="1530">5.注重教育理论的学习，把一些先进的理论应<tspan x="1971" dy="16">用于课堂,做到学有所用.</tspan></text></g>
<g id="b2-U1"><rect class="f2" x="2241" y="1388" width="254" height="74" rx="5"/><text class="t" x="2249" y="1405">一年来,我在学校开了多次公开课。通过开公<tspan x="2249" dy="16">开课,使自己的教学水平得到很大的提高，但</tspan><tspan x="2249" dy="16">也使我意识到了自己在教学方面的不足之处,</tspan><tspan x="2249" dy="16">一年教龄公开课受到各位老师的好评。</tspan></text></g>
<g id="b2-U2"><rect class="f2" x="2241" y="1489" width="254" height="90" rx="5"/><text class="t" x="2249" y="1506">我还积极参加区组织的各项活动，所撰写的论<tspan x="2249" dy="16">文《中华传统美德的思考与实践》获2006年</tspan><tspan x="2249" dy="16">度全国中小学思想道德建设优秀成果一等奖。</tspan><tspan x="2249" dy="16">另外，在学区组织的教案评比活动中获一等奖</tspan><tspan x="2249" dy="16">。</tspan></text></g>
<g id="b2-U3"><rect class="f2" x="2241" y="1605" width="254" height="74" rx="5"/><text class="t" x="2249" y="1622">总体上来说，从一个被教育者变成了教育工作<tspan x="2249" dy="16">者。在这样一个变化的过程中有苦有甜，但是</tspan><tspan x="2249" dy="16">我知道所有的付出一定会有回报的，我一定会</tspan><tspan x="2249" dy="16">再接再厉，继续努力工作。</tspan></text></g>
</g>

<g id="b4">
<g id="b4-label"><rect x="1321" y="2493" width="210" height="35" rx="5" fill="#bd43a5"/><text class="lb" x="1331" y="2516">个人英语教学反思工作总结4</text></g>
<g id="b4-V"><rect class="f4" x="1555" y="1706" width="253" height="170" rx="5"/><text class="t" x="1563" y="1723">一学期的教学工作结束了。在这个学期中，我<tspan x="1563" dy="16">顺利地完成了六年级下册的英语教学工作。在</tspan><tspan x="1563" dy="16">学期刚开始时，我面临了很多问题，和其他的</tspan><tspan x="1563" dy="16">老师们一样，不断发现新问题，不断解决新问</tspan><tspan x="1563" dy="16">题，在紧张的工作中，看到学生们取得的进步</tspan><tspan x="1563" dy="16">而欣喜若狂，看到他们退步而伤心。他们在成</tspan><tspan x="1563" dy="16">长，我也在成长。此时，学期即将结束了，教</tspan><tspan x="1563" dy="16">学工作如期完成了，我将对本学期的教学工作</tspan><tspan x="1563" dy="16">作出总结，总结本学期教学的基本情况、所取</tspan><tspan x="1563" dy="16">得的成绩及获得的经验、教训。</tspan></text></g>
<g id="b4-s1"><rect class="f4" x="1555" y="2050" width="184" height="26" rx="5"/><text class="t" x="1563" y="2067.5">一、本学期教学工作的基本情况</text></g>
<g id="b4-W"><rect class="f4" x="1759" y="1901" width="254" height="330" rx="5"/><text class="t" x="1767" y="1918">在本学期教学工作开始之际，我仔细地分析了<tspan x="1767" dy="16">教材，确定本册教材的教学思路和教材的主要</tspan><tspan x="1767" dy="16">特点：教材的主要教学目的是激发学生学习英</tspan><tspan x="1767" dy="16">语的兴趣，使学生树立学习英语的自信心;培</tspan><tspan x="1767" dy="16">养学生的英语语感，为日后的英语学习打好语</tspan><tspan x="1767" dy="16">音、语调、阅读和书写等方面的基础;具有以</tspan><tspan x="1767" dy="16">下一些特点：强调语言的运用，注重能力的培</tspan><tspan x="1767" dy="16">养，突出兴趣的激发，重视双向交流，融合学</tspan><tspan x="1767" dy="16">科内容，实现整体设计，提供多媒体的配套材</tspan><tspan x="1767" dy="16">料，把知识学习与意识、情感培养结合在一起</tspan><tspan x="1767" dy="16">，如培养学生的爱国情感、环保意识等情感。</tspan><tspan x="1767" dy="16">经过这一系列分析后，拟定了教学工作计划，</tspan><tspan x="1767" dy="16">并根据教学计划逐步实施教学工作。在本册教</tspan><tspan x="1767" dy="16">材教学过程中，根据它的特点与学生的年龄特</tspan><tspan x="1767" dy="16">征，学习风格与兴趣爱好，选择了一些教学方</tspan><tspan x="1767" dy="16">法，如情景教学法、游戏法、歌曲法、表演法</tspan><tspan x="1767" dy="16">、交际法等等。另外，在教学中，我特别注重</tspan><tspan x="1767" dy="16">为学生创设单元学习的大情境，让学生在语言</tspan><tspan x="1767" dy="16">情境中进行单词、句型乃至段落学习，收到了</tspan><tspan x="1767" dy="16">良好的教学效果。</tspan></text></g>
<g id="b4-s2"><rect class="f4" x="1555" y="2544" width="124" height="26" rx="5"/><text class="t" x="1563" y="2561.5">二、六年级教学体会</text></g>
<g id="b4-Y"><rect class="f4" x="1698" y="2497" width="255" height="122" rx="5"/><text class="t" x="1706" y="2514">本学期教学工作的完成和取得的成绩给了我很<tspan x="1706" dy="16">大的鼓舞。我在本学期的工作中，得益甚大，</tspan><tspan x="1706" dy="16">积累了更多的教学经验。虽然遇到了很多前所</tspan><tspan x="1706" dy="16">未来的困难与问题，但是，在其他教师的指导</tspan><tspan x="1706" dy="16">与帮助下，积极思考解决，在困难与问题中不</tspan><tspan x="1706" dy="16">断成长。以下是我本学期积累下的一些重要经</tspan><tspan x="1706" dy="16">验：</tspan></text></g>
<g id="b4-X1"><rect class="f4" x="1975" y="2320" width="256" height="43" rx="5"/><text class="t" x="1983" y="2337">1、六年级学生处于一个身心发展的转折阶段<tspan x="1983" dy="16">，在心理上变化特别大。</tspan></text></g>
<g id="b4-X2"><rect class="f4" x="1975" y="2751" width="256" height="43" rx="5"/><text class="t" x="1983" y="2768">2、经过一学期的教学工作，我积累了更多的<tspan x="1983" dy="16">教学经验。</tspan></text></g>
<g id="b4-Z1"><rect class="f4" x="2253" y="2251" width="255" height="186" rx="5"/><text class="t" x="2261" y="2268">这种情况对学生的学习状态有一定的影响。我<tspan x="2261" dy="16">很庆幸能运用在课余所学的知识，了解到对于</tspan><tspan x="2261" dy="16">教师与学生来讲，这是一个转折期、危险期，</tspan><tspan x="2261" dy="16">同时，对老师来讲，是一个教育的关键期。因</tspan><tspan x="2261" dy="16">此，要抓住这一时期学生的特点，给予及时的</tspan><tspan x="2261" dy="16">教育和引导，引导他们认识到学习才是他们的</tspan><tspan x="2261" dy="16">首要任务;继续以学生的需要为出发点，努力</tspan><tspan x="2261" dy="16">整合教学内容，活化课堂教学，结合学生的兴</tspan><tspan x="2261" dy="16">趣，挖掘教材中学生感兴趣的部分，真正地做</tspan><tspan x="2261" dy="16">到教学为学生服务。这样，一步一步引导学生</tspan><tspan x="2261" dy="16">渡过这一时期。</tspan></text></g>
<g id="b4-Z2"><rect class="f4" x="2253" y="2461" width="255" height="186" rx="5"/><text class="t" x="2261" y="2478">特别是在考前，关于"如何指导学生进行系统化<tspan x="2261" dy="16">复习"，我总结了一些有效的经验和做法。如</tspan><tspan x="2261" dy="16">，在处理新知识(本册教材)完成时间与复习时</tspan><tspan x="2261" dy="16">间长短的问题上，我得出这样的结论：如果盲</tspan><tspan x="2261" dy="16">目地只求尽快把新课结束，因为时间紧迫而拼</tspan><tspan x="2261" dy="16">命完成教学，忽略了学生的接受水平与学习状</tspan><tspan x="2261" dy="16">态，那是行不通的。新知识的教学要及时完成</tspan><tspan x="2261" dy="16">，然而，我还是主张在呈现新知的第一阶段必</tspan><tspan x="2261" dy="16">须"求精而不求快"。对学生来讲，首次接触的</tspan><tspan x="2261" dy="16">新知识能否给他们留下深刻的印象，对于他们</tspan><tspan x="2261" dy="16">能否熟练掌握是个至关重要的因素。</tspan></text></g>
<g id="b4-Z3"><rect class="f4" x="2253" y="2671" width="255" height="282" rx="5"/><text class="t" x="2261" y="2688">因此，在本学期下半学期，我一开始也是非常<tspan x="2261" dy="16">迷惑，到底选择尽快完成新知传授，转入复习</tspan><tspan x="2261" dy="16">阶段，还是按部就班，按学生可接受的水平逐</tspan><tspan x="2261" dy="16">步进行呢?结果，我还是选择后者。因为我认</tspan><tspan x="2261" dy="16">识到：由于即将参加毕业考试，各科教师都会</tspan><tspan x="2261" dy="16">投入更多的精力于教学中，在学生看来，这是</tspan><tspan x="2261" dy="16">一种无形的压力。老师与学生都处在紧张的状</tspan><tspan x="2261" dy="16">态中，学生更是要面临语、数、英三科的功课</tspan><tspan x="2261" dy="16">、作业、练习等等。学习生活变得忙碌，游戏</tspan><tspan x="2261" dy="16">活动时间的减少也会让他们觉得烦躁，情绪波</tspan><tspan x="2261" dy="16">动较大。因此，适当地放慢脚步，让学生一步</tspan><tspan x="2261" dy="16">一步在自己能够控制的范围内慢慢提高。虽然</tspan><tspan x="2261" dy="16">我的新课结束时间比别的老师晚，但是效果却</tspan><tspan x="2261" dy="16">是令人满意的。在这个过程中，我在不断地思</tspan><tspan x="2261" dy="16">考，如何灵活地整合新旧知识，才更易于让学</tspan><tspan x="2261" dy="16">生在复习中做到事半功倍。无形中，我处理教</tspan><tspan x="2261" dy="16">学内容的能力也有所提高了。</tspan></text></g>
<g id="b4-Z4"><rect class="f4" x="2253" y="2974" width="255" height="42" rx="5"/><text class="t" x="2261" y="2991">在本学期的教学工作中，体会到：六年级教学<tspan x="2261" dy="16">任务虽是繁重，但却在其中收获良多。</tspan></text></g>
<g id="b4-s3"><rect class="f4" x="1555" y="3234" width="100" height="26" rx="5"/><text class="t" x="1563" y="3251.5">三、存在的问题</text></g>
<g id="b4-AA1"><rect class="f4" x="1674" y="3043" width="254" height="58" rx="5"/><text class="t" x="1682" y="3060">本学期工作过程中，取得了一定的成绩，积累<tspan x="1682" dy="16">了不少工作经验，然而，在其中，仍然存在着</tspan><tspan x="1682" dy="16">一些不足。</tspan></text></g>
<g id="b4-AA2"><rect class="f4" x="1674" y="3129" width="254" height="202" rx="5"/><text class="t" x="1682" y="3146">在复习阶段，大部分学生在课堂上的学习状态<tspan x="1682" dy="16">是积极的，但是，我们往往会忽略班上那小部</tspan><tspan x="1682" dy="16">分后进生。在我们进行紧张而繁重的复习工作</tspan><tspan x="1682" dy="16">时，最容易忽略他们。不足的是，没有更多地</tspan><tspan x="1682" dy="16">关注到后进生的课堂学习情况，也没有尽最大</tspan><tspan x="1682" dy="16">的努力引导他们抓紧课堂的每一分钟。于是，</tspan><tspan x="1682" dy="16">为了让他们取得进步，我们的做法却是进行"</tspan><tspan x="1682" dy="16">课后辅导"，增加师生的负担。因此，在往后</tspan><tspan x="1682" dy="16">的教学中，我要更积极地思考转化后进生的方</tspan><tspan x="1682" dy="16">法。如，在复习阶段，针对复习内容，运用竞</tspan><tspan x="1682" dy="16">争机制，在后进生的小圈子内进行内部竞争，</tspan><tspan x="1682" dy="16">激发他们上进的积极性。</tspan></text></g>
<g id="b4-AA3"><rect class="f4" x="1674" y="3355" width="254" height="138" rx="5"/><text class="t" x="1682" y="3372">以上是本学期教学中存在的不足与缺点，在日<tspan x="1682" dy="16">后的教学中，我会继续努力，不断地思考和实</tspan><tspan x="1682" dy="16">施改进的方法。本学期六年级的教学工作圆满</tspan><tspan x="1682" dy="16">结束，总的来说，在其中，我积累了不少经验</tspan><tspan x="1682" dy="16">，同时也发现了自己存在的一些不足之处。在</tspan><tspan x="1682" dy="16">今后的工作中，我将更加努力工作，并且要不</tspan><tspan x="1682" dy="16">断总结经验和教训，发挥优势，改善不足，虚</tspan><tspan x="1682" dy="16">心谨慎，继续前行!</tspan></text></g>
</g>

<g id="b6">
<g id="b6-label"><rect x="1321" y="3893" width="210" height="35" rx="5" fill="#7a5cb5"/><text class="lb" x="1331" y="3916">个人英语教学反思工作总结6</text></g>
<g id="b6-BB"><rect class="f6" x="1555" y="3874" width="253" height="74" rx="5"/><text class="t" x="1563" y="3891">本人在学年度第一学期担任高三一班、高三二<tspan x="1563" dy="16">十五班两个文科班以及高三二十班一个理科尖</tspan><tspan x="1563" dy="16">子班的英语教学工作，现将工作简单总结如下</tspan><tspan x="1563" dy="16">：</tspan></text></g>
<g id="b6-s1"><rect class="f6" x="1832" y="3563" width="88" height="26" rx="5"/><text class="t" x="1840" y="3580.5">一、爱岗敬业</text></g>
<g id="b6-CC1"><rect class="f6" x="1939" y="3517" width="255" height="122" rx="5"/><text class="t" x="1947" y="3534">我深知高三对于每个学生以及每个学生背后的<tspan x="1947" dy="16">家庭的重要意义，因此在工作中不敢有丝毫的</tspan><tspan x="1947" dy="16">马虎，全身心地投入，分析工作中出现的问题</tspan><tspan x="1947" dy="16">。积极投入到平时的教书育人活动中。我虽是</tspan><tspan x="1947" dy="16">科任老师，但也经常深入班级，及时与学生们</tspan><tspan x="1947" dy="16">沟通，做学生的益友。与学生的距离缩短了，</tspan><tspan x="1947" dy="16">学生也就乐于学习英语这个学科了。</tspan></text></g>
<g id="b6-s2"><rect class="f6" x="1832" y="3734" width="88" height="26" rx="5"/><text class="t" x="1840" y="3751.5">二、因班施教</text></g>
<g id="b6-CC2"><rect class="f6" x="1939" y="3664" width="255" height="170" rx="5"/><text class="t" x="1947" y="3681">除了刚参加工作的几年外，今年是我感觉最累<tspan x="1947" dy="16">的一年，三个班的学生基础不一样，相差很</tspan><tspan x="1947" dy="16">大，从文科的应届生到文科的辅导生，再到理</tspan><tspan x="1947" dy="16">科的辅导生，跨度很大，如果采取一样的教法</tspan><tspan x="1947" dy="16">，一样的教学步骤，肯定会出现有的班吃不饱</tspan><tspan x="1947" dy="16">，有的班会跟不上的情况。为了避免这种情况</tspan><tspan x="1947" dy="16">，我用大约两周的时间，不断观察、思考，对</tspan><tspan x="1947" dy="16">每一个班的教学正确定位。因班施教，三个班</tspan><tspan x="1947" dy="16">学生的英语成绩在原来的基础上都有很大的提</tspan><tspan x="1947" dy="16">升。</tspan></text></g>
<g id="b6-s3"><rect class="f6" x="1832" y="3897" width="88" height="26" rx="5"/><text class="t" x="1840" y="3914.5">三、注重细节</text></g>
<g id="b6-CC3"><rect class="f6" x="1939" y="3859" width="255" height="106" rx="5"/><text class="t" x="1947" y="3876">结果源于过程，细节成就成效，学生的时间非<tspan x="1947" dy="16">常有限，如果不注意平时学生在学习过程中出</tspan><tspan x="1947" dy="16">现的问题，解决问题就没有针对性，耗费精力</tspan><tspan x="1947" dy="16">太多。如果想要准确地发现问题所在，就要多</tspan><tspan x="1947" dy="16">留心学生在课堂上的反映和平时作业中出现</tspan><tspan x="1947" dy="16">的问题。</tspan></text></g>
<g id="b6-s4"><rect class="f6" x="1832" y="4052" width="148" height="26" rx="5"/><text class="t" x="1840" y="4069.5">四、认真备课、批改作业</text></g>
<g id="b6-CC4"><rect class="f6" x="2000" y="3991" width="255" height="154" rx="5"/><text class="t" x="2008" y="4008">因为三个班级学生基础不同，所以我不仅要<tspan x="2008" dy="16">备内容，还要备学生，注意分层次教学，</tspan><tspan x="2008" dy="16">使学生在课堂上都能有所收获。学生的听</tspan><tspan x="2008" dy="16">课效果和教师授课效果的一致性很重要。</tspan><tspan x="2008" dy="16">高三的作业没人查，但也坚持批改，通过</tspan><tspan x="2008" dy="16">这种方式来督促、激励学生学习，并且把</tspan><tspan x="2008" dy="16">卷子作为教师与学生交流的平台，把我的</tspan><tspan x="2008" dy="16">鼓励和期待写在作业本上和试卷上，冷冰冰的</tspan><tspan x="2008" dy="16">东西就变得有灵性有感情了。</tspan></text></g>
<g id="b6-s5"><rect class="f6" x="1832" y="4231" width="112" height="26" rx="5"/><text class="t" x="1840" y="4248.5">五、不断学习充电</text></g>
<g id="b6-DD1"><rect class="f6" x="1964" y="4168" width="255" height="58" rx="5"/><text class="t" x="1972" y="4185">在平时教学中，越来越感到自己知识欠缺，<tspan x="1972" dy="16">提高的空间还很大，于是利用一切可利用的</tspan><tspan x="1972" dy="16">时间充电学习。</tspan></text></g>
<g id="b6-DD2"><rect class="f6" x="1964" y="4253" width="262" height="74" rx="5"/><text class="t" x="1972" y="4270">领导的关心和自己的勤奋，使我所教班级英<tspan x="1972" dy="16">语成绩一直不错，我会在今后的工作中更加努</tspan><tspan x="1972" dy="16">力，虚心向同行请教，不断提高自己，做家长</tspan><tspan x="1972" dy="16">放心、学生满意的好教师。</tspan></text></g>
</g>

<g id="related">
<g id="rel-label"><rect x="1320" y="4581" width="257" height="56" rx="5" fill="#3a88d1"/><text class="lb" x="1330" y="4604">个人英语教学反思工作总结相关文<tspan x="1330" dy="23">章:</tspan></text></g>
<g id="rel-1"><rect class="f8" x="1601" y="4353" width="190" height="28" rx="5"/><text class="t" x="1609" y="4371.5">★ 英语教学反思教师工作总结5篇</text></g>
<g id="rel-2"><rect class="f8" x="1601" y="4407" width="214" height="28" rx="5"/><text class="t" x="1609" y="4425.5">★ 英语教师教学工作反思总结报告5篇</text></g>
<g id="rel-3"><rect class="f8" x="1601" y="4461" width="190" height="28" rx="5"/><text class="t" x="1609" y="4479.5">★ 英语教师教学工作总结整理5篇</text></g>
<g id="rel-4"><rect class="f8" x="1601" y="4514" width="166" height="28" rx="5"/><text class="t" x="1609" y="4532.5">★ 教师个人工作反思总结5篇</text></g>
<g id="rel-5"><rect class="f8" x="1601" y="4568" width="190" height="28" rx="5"/><text class="t" x="1609" y="4586.5">★ 英语教学年度工作总结范文5篇</text></g>
<g id="rel-6"><rect class="f8" x="1601" y="4622" width="207" height="28" rx="5"/><text class="t" x="1609" y="4640.5">★ 英语教学反思与总结简短【五篇】</text></g>
<g id="rel-7"><rect class="f8" x="1601" y="4675" width="203" height="28" rx="5"/><text class="t" x="1609" y="4693.5">★ 英语年度教学工作总结怎么写5篇</text></g>
<g id="rel-8"><rect class="f8" x="1601" y="4729" width="190" height="28" rx="5"/><text class="t" x="1609" y="4747.5">★ 小学英语教学工作总结范文5篇</text></g>
<g id="rel-9"><rect class="f8" x="1601" y="4783" width="171" height="28" rx="5"/><text class="t" x="1609" y="4801.5">★ 英语老师年度教学反思五篇</text></g>
<g id="rel-10"><rect class="f8" x="1601" y="4837" width="146" height="28" rx="5"/><text class="t" x="1609" y="4855.5">★ 英语学期学年教学总结</text></g>
</g>
</g>
</svg>
